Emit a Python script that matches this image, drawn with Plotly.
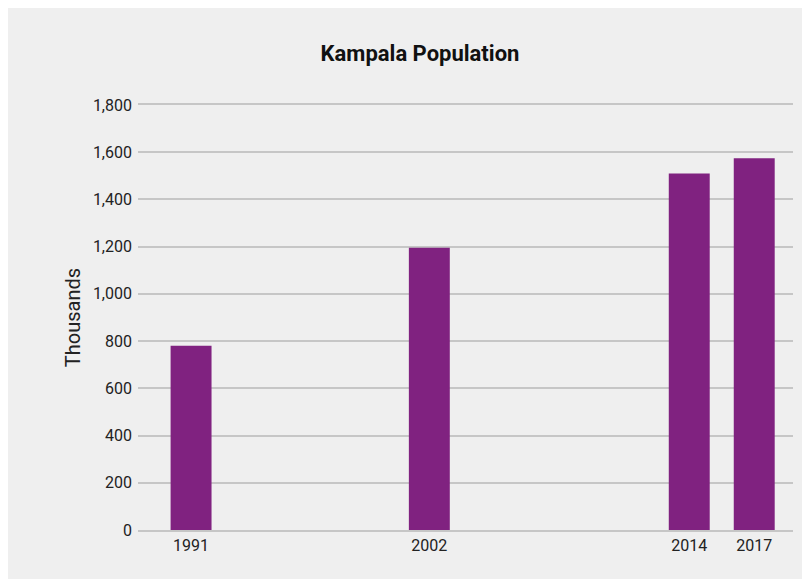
import plotly.graph_objects as go

years = [1991, 2002, 2014, 2017]
population_thousands = [780, 1195, 1510, 1575]
year_labels = ["1991", "2002", "2014", "2017"]
y_ticks = [0, 200, 400, 600, 800, 1000, 1200, 1400, 1600, 1800]
y_tick_labels = ["0", "200", "400", "600", "800", "1,000", "1,200", "1,400", "1,600", "1,800"]

FONT = "Roboto, Liberation Sans, sans-serif"
BAR = "#802280"
BG = "#efefef"
GRID = "#c6c6c6"
TXT = "#222222"

# page body has an 8px margin, so the figure sits at (8, 8) in the window
W, H = 810, 579
L, R, T, B = 130, 25, 97, 57

fig = go.Figure(
    go.Bar(
        x=years,
        y=population_thousands,
        width=1.89,
        marker=dict(color=BAR, line=dict(width=0)),
    )
)

fig.update_layout(
    width=W,
    height=H,
    margin=dict(l=L, r=R, t=T, b=B),
    paper_bgcolor=BG,
    plot_bgcolor=BG,
    showlegend=False,
    font=dict(family=FONT, color=TXT, size=16),
    title=dict(
        text="<b>Kampala Population</b>",
        x=412 / W,
        xanchor="center",
        y=1 - 45 / H,
        yanchor="middle",
        font=dict(family=FONT, size=22, color="#111111"),
    ),
    xaxis=dict(
        range=[1988.55, 2018.79],
        tickmode="array",
        tickvals=years,
        ticktext=year_labels,
        showgrid=False,
        zeroline=False,
        showline=True,
        mirror=True,
        linecolor=GRID,
        linewidth=2,
        ticks="",
        tickfont=dict(size=16, color=TXT),
        fixedrange=True,
    ),
    yaxis=dict(
        range=[0, 1800],
        tickmode="array",
        tickvals=y_ticks,
        ticktext=y_tick_labels,
        showgrid=True,
        gridcolor=GRID,
        gridwidth=2,
        zeroline=False,
        showline=False,
        ticks="",
        ticklabelstandoff=5,
        tickfont=dict(size=16, color=TXT),
        title=dict(text="Thousands", font=dict(size=20, color=TXT), standoff=6),
        fixedrange=True,
    ),
)

fig.write_html("out.html")
